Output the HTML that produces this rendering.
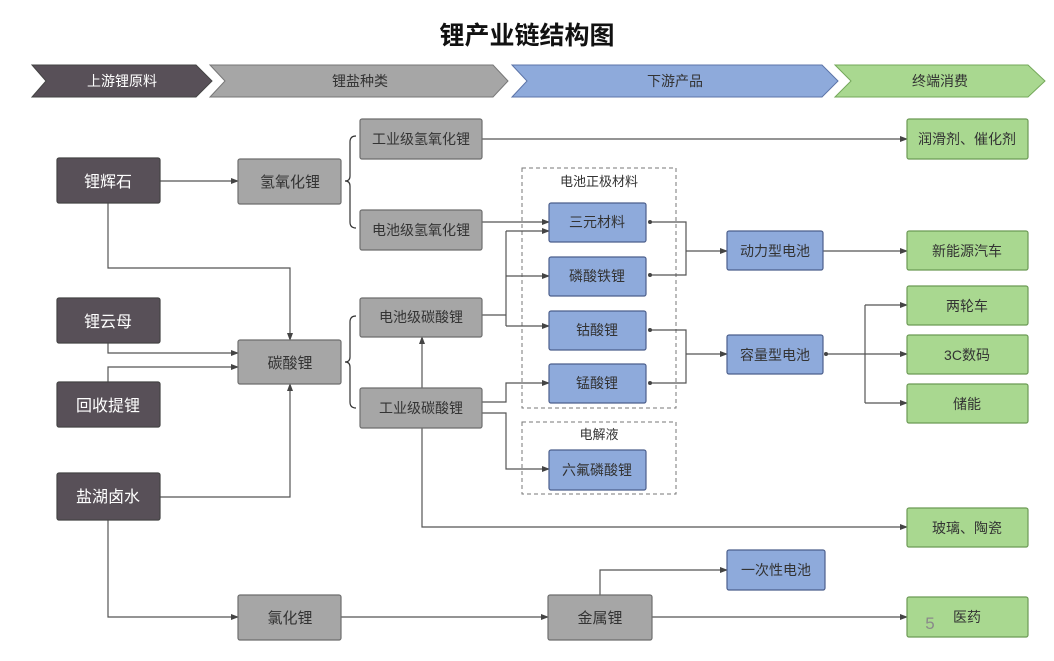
<!DOCTYPE html>
<html><head><meta charset="utf-8"><style>
body{margin:0;background:#fff;}
svg text{font-family:"Liberation Sans","Noto Sans CJK SC",sans-serif;}
</style></head><body>
<svg width="1054" height="656" viewBox="0 0 1054 656" xmlns="http://www.w3.org/2000/svg">
<defs>
<marker id="a" markerWidth="8" markerHeight="8" refX="7" refY="4" orient="auto" markerUnits="userSpaceOnUse"><path d="M0,1 L8,4 L0,7 Z" fill="#444"/></marker>
</defs>
<text x="527" y="44" text-anchor="middle" font-size="25" font-weight="bold" fill="#111">锂产业链结构图</text>
<!-- chevrons -->
<polygon points="32,65 196,65 212,81 196,97 32,97 46,81" fill="#585058" stroke="#444" stroke-width="1"/>
<polygon points="210,65 493,65 508,81 493,97 210,97 225,81" fill="#a6a6a6" stroke="#777" stroke-width="1"/>
<polygon points="512,65 822,65 838,81 822,97 512,97 527,81" fill="#8eaadb" stroke="#5c74a8" stroke-width="1"/>
<polygon points="835,65 1028,65 1045,81 1028,97 835,97 851,81" fill="#a9d890" stroke="#74a85a" stroke-width="1"/>
<g font-size="14" text-anchor="middle">
<text x="122" y="86" fill="#fff">上游锂原料</text>
<text x="360" y="86" fill="#333">锂盐种类</text>
<text x="675" y="86" fill="#333">下游产品</text>
<text x="940" y="86" fill="#333">终端消费</text>
</g>
<!-- dashed boxes -->
<rect x="522" y="168" width="154" height="240" fill="none" stroke="#777" stroke-dasharray="4,3"/>
<rect x="522" y="422" width="154" height="72" fill="none" stroke="#777" stroke-dasharray="4,3"/>
<text x="599" y="186" text-anchor="middle" font-size="13" fill="#333">电池正极材料</text>
<text x="599" y="439" text-anchor="middle" font-size="13" fill="#333">电解液</text>
<!-- connectors -->
<g fill="none" stroke="#555" stroke-width="1.2">
<path d="M160,181 H238" marker-end="url(#a)"/>
<path d="M108,203 V268 H290 V340" marker-end="url(#a)"/>
<path d="M108,343 V353 H238" marker-end="url(#a)"/>
<path d="M108,382 V367 H238" marker-end="url(#a)"/>
<path d="M160,497 H290 V384" marker-end="url(#a)"/>
<path d="M108,520 V617 H238" marker-end="url(#a)"/>
<path d="M341,617 H548" marker-end="url(#a)"/>
<path d="M600,595 V570 H727" marker-end="url(#a)"/>
<path d="M652,617 H907" marker-end="url(#a)"/>
<path d="M482,139 H907" marker-end="url(#a)"/>
<path d="M482,222 H549" marker-end="url(#a)"/>
<path d="M482,315 H506"/>
<path d="M506,231 V326"/>
<path d="M506,231 H549" marker-end="url(#a)"/>
<path d="M506,276 H549" marker-end="url(#a)"/>
<path d="M506,326 H549" marker-end="url(#a)"/>
<path d="M482,402 H506 V383 H549" marker-end="url(#a)"/>
<path d="M482,413 H506 V469 H549" marker-end="url(#a)"/>
<path d="M422,388 V337" marker-end="url(#a)"/>
<path d="M422,428 V527 H907" marker-end="url(#a)"/>
<path d="M650,222 H686 V275 H650"/>
<path d="M686,251 H727" marker-end="url(#a)"/>
<path d="M650,330 H686 V383 H650"/>
<path d="M686,354 H727" marker-end="url(#a)"/>
<path d="M823,251 H907" marker-end="url(#a)"/>
<path d="M826,354 H907" marker-end="url(#a)"/>
<path d="M865,305 V403"/>
<path d="M865,305 H907" marker-end="url(#a)"/>
<path d="M865,403 H907" marker-end="url(#a)"/>
<!-- braces -->
<path d="M356,136 Q350,136 350,142 V176 Q350,181 345,181 Q350,181 350,186 V222 Q350,228 356,228" stroke="#333"/>
<path d="M356,316 Q350,316 350,322 V357 Q350,362 345,362 Q350,362 350,367 V402 Q350,408 356,408" stroke="#333"/>
</g>
<g fill="#444">
<circle cx="650" cy="222" r="2"/><circle cx="650" cy="275" r="2"/>
<circle cx="650" cy="330" r="2"/><circle cx="650" cy="383" r="2"/>
<circle cx="826" cy="354" r="2"/>
</g>
<!-- boxes -->
<g stroke-width="1.2">
<g fill="#585058" stroke="#444">
<rect x="57" y="158" width="103" height="45" rx="2"/>
<rect x="57" y="298" width="103" height="45" rx="2"/>
<rect x="57" y="382" width="103" height="45" rx="2"/>
<rect x="57" y="473" width="103" height="47" rx="2"/>
</g>
<g fill="#a6a6a6" stroke="#6e6e6e">
<rect x="238" y="159" width="103" height="45" rx="2"/>
<rect x="238" y="340" width="103" height="44" rx="2"/>
<rect x="238" y="595" width="103" height="45" rx="2"/>
<rect x="548" y="595" width="104" height="45" rx="2"/>
<rect x="360" y="119" width="122" height="40" rx="2"/>
<rect x="360" y="210" width="122" height="40" rx="2"/>
<rect x="360" y="298" width="122" height="39" rx="2"/>
<rect x="360" y="388" width="122" height="40" rx="2"/>
</g>
<g fill="#8eaadb" stroke="#4c5f8c">
<rect x="549" y="203" width="97" height="39" rx="2"/>
<rect x="549" y="257" width="97" height="39" rx="2"/>
<rect x="549" y="311" width="97" height="39" rx="2"/>
<rect x="549" y="364" width="97" height="39" rx="2"/>
<rect x="549" y="450" width="97" height="40" rx="2"/>
<rect x="727" y="231" width="96" height="39" rx="2"/>
<rect x="727" y="335" width="96" height="39" rx="2"/>
<rect x="727" y="550" width="98" height="40" rx="2"/>
</g>
<g fill="#a9d890" stroke="#6c9a55">
<rect x="907" y="119" width="121" height="40" rx="2"/>
<rect x="907" y="231" width="121" height="39" rx="2"/>
<rect x="907" y="286" width="121" height="39" rx="2"/>
<rect x="907" y="335" width="121" height="39" rx="2"/>
<rect x="907" y="384" width="121" height="39" rx="2"/>
<rect x="907" y="508" width="121" height="39" rx="2"/>
<rect x="907" y="597" width="121" height="40" rx="2"/>
</g>
</g>
<g text-anchor="middle" font-size="16" fill="#fff">
<text x="108" y="187">锂辉石</text>
<text x="108" y="327">锂云母</text>
<text x="108" y="411">回收提锂</text>
<text x="108" y="502">盐湖卤水</text>
</g>
<g text-anchor="middle" font-size="15" fill="#333">
<text x="290" y="187">氢氧化锂</text>
<text x="290" y="368">碳酸锂</text>
<text x="290" y="623">氯化锂</text>
<text x="600" y="623">金属锂</text>
</g>
<g text-anchor="middle" font-size="14" fill="#333">
<text x="421" y="144">工业级氢氧化锂</text>
<text x="421" y="235">电池级氢氧化锂</text>
<text x="421" y="322">电池级碳酸锂</text>
<text x="421" y="413">工业级碳酸锂</text>
<text x="597" y="227">三元材料</text>
<text x="597" y="281">磷酸铁锂</text>
<text x="597" y="335">钴酸锂</text>
<text x="597" y="388">锰酸锂</text>
<text x="597" y="475">六氟磷酸锂</text>
<text x="775" y="256">动力型电池</text>
<text x="775" y="360">容量型电池</text>
<text x="776" y="575">一次性电池</text>
<text x="967" y="144">润滑剂、催化剂</text>
<text x="967" y="256">新能源汽车</text>
<text x="967" y="311">两轮车</text>
<text x="967" y="360">3C数码</text>
<text x="967" y="409">储能</text>
<text x="967" y="533">玻璃、陶瓷</text>
<text x="967" y="622">医药</text>
</g>
<text x="930" y="629" text-anchor="middle" font-size="17" fill="#8a8a8a">5</text>
</svg>
</body></html>
